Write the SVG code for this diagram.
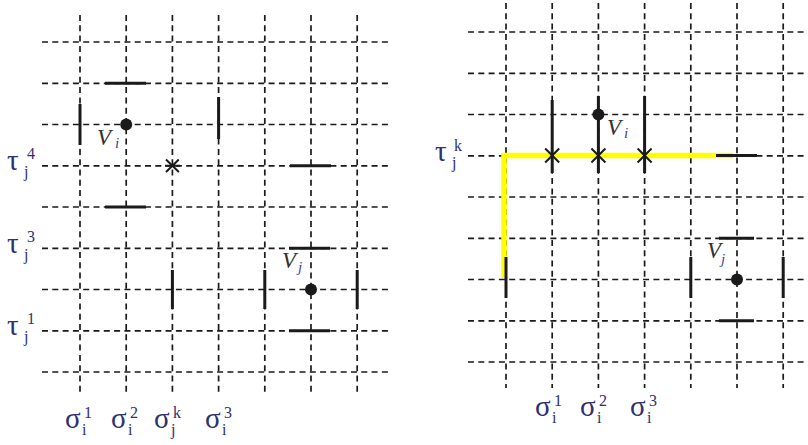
<svg xmlns="http://www.w3.org/2000/svg" width="808" height="445" viewBox="0 0 808 445">
<style>
.g{stroke:#1a1a1a;stroke-width:1.7;stroke-dasharray:6 4.3;fill:none}
.b{stroke:#1a1a1a;stroke-width:3;fill:none}
.x{stroke:#1a1a1a;stroke-width:2;fill:none}
.lab{font-family:"Liberation Serif",serif;fill:#2e3070}
.big{font-size:29px}
.sm{font-size:16px}
.v{font-family:"Liberation Serif",serif;font-style:italic;font-size:23px;fill:#333}
.vs{font-family:"Liberation Serif",serif;font-style:italic;font-size:15px;fill:#3b3f8c}
</style>
<rect width="808" height="445" fill="#fff"/>
<g id="left-grid">
<path class="g" d="M42 42H390M42 83.3H390M42 124.5H390M42 165.8H390M42 207H390M42 248.3H390M42 289.5H390M42 330.8H390M42 372H390"/>
<path class="g" d="M80 15V395M126.2 15V395M172.4 15V395M218.6 15V395M264.8 15V395M311 15V395M357.2 15V395"/>
</g>
<g id="right-grid">
<path class="g" d="M468 32H806M468 73.3H806M468 114.5H806M468 155.8H806M468 197H806M468 238.3H806M468 279.5H806M468 320.8H806M468 362H806"/>
<path class="g" d="M506 3V388M552.2 3V388M598.4 3V388M644.6 3V388M690.8 3V388M737 3V388M783.2 3V388"/>
</g>
<g id="connectors">
<path d="M504 278V155.5H733" stroke="#ffff00" stroke-width="5.5" fill="none" stroke-linejoin="miter"/>
<path class="b" d="M105 83.3H146M80 104V145M218.6 97V139M290 165.8H331M105 207H146M289 248.3H330M172.4 270V309M264.8 270V309M357.2 270V309M289 330.8H330"/>
<path class="b" d="M552.2 100V173M598.4 96V173M644.6 96V173M716 155.5H757M719 238.3H754M506 257V298M690.8 257V298M783.2 257V298M719 320.8H754"/>
</g>
<g id="cross-left">
<path class="x" stroke-width="1.7" d="M166 159.5L178.8 172M166 172L178.8 159.5M165 165.8H180"/>
</g>
<g id="crosses-right">
<path class="x" d="M545.2 148.5L559.2 162.5M545.2 162.5L559.2 148.5M591.4 148.5L605.4 162.5M591.4 162.5L605.4 148.5M637.6 148.5L651.6 162.5M637.6 162.5L651.6 148.5"/>
</g>
<g id="Vi-left">
<circle cx="126.2" cy="124.5" r="6" fill="#1a1a1a"/>
<text class="v" x="97" y="145">V</text><text class="vs" x="115" y="148">i</text>
</g>
<g id="Vj-left">
<circle cx="311" cy="289.5" r="6" fill="#1a1a1a"/>
<text class="v" x="282" y="268">V</text><text class="vs" x="298" y="272">j</text>
</g>
<g id="Vi-right">
<circle cx="598.4" cy="114.5" r="6" fill="#1a1a1a"/>
<text class="v" x="607" y="135">V</text><text class="vs" x="624" y="138">i</text>
</g>
<g id="Vj-right">
<circle cx="737" cy="279.5" r="6" fill="#1a1a1a"/>
<text class="v" x="707" y="258">V</text><text class="vs" x="721" y="264">j</text>
</g>
<g id="tau-labels" class="lab">
<text class="big" x="7" y="170">τ</text><text class="sm" x="27" y="159">4</text><text class="sm" x="24" y="177">j</text>
<text class="big" x="7" y="253">τ</text><text class="sm" x="27" y="242">3</text><text class="sm" x="24" y="260">j</text>
<text class="big" x="7" y="335">τ</text><text class="sm" x="27" y="324">1</text><text class="sm" x="24" y="342">j</text>
<text class="big" x="435" y="161">τ</text><text class="sm" x="454" y="151">k</text><text class="sm" x="452" y="168">j</text>
</g>
<g id="sigma-labels" class="lab">
<text class="big" x="65" y="428">σ</text><text class="sm" x="84" y="418">1</text><text class="sm" x="82" y="435">i</text>
<text class="big" x="111" y="428">σ</text><text class="sm" x="130" y="418">2</text><text class="sm" x="128" y="435">i</text>
<text class="big" x="154" y="428">σ</text><text class="sm" x="173" y="418">k</text><text class="sm" x="171" y="435">j</text>
<text class="big" x="205" y="428">σ</text><text class="sm" x="224" y="418">3</text><text class="sm" x="222" y="435">i</text>
<text class="big" x="535" y="416">σ</text><text class="sm" x="554" y="406">1</text><text class="sm" x="552" y="423">i</text>
<text class="big" x="580" y="416">σ</text><text class="sm" x="599" y="406">2</text><text class="sm" x="597" y="423">i</text>
<text class="big" x="630" y="416">σ</text><text class="sm" x="649" y="406">3</text><text class="sm" x="647" y="423">i</text>
</g>
</svg>
